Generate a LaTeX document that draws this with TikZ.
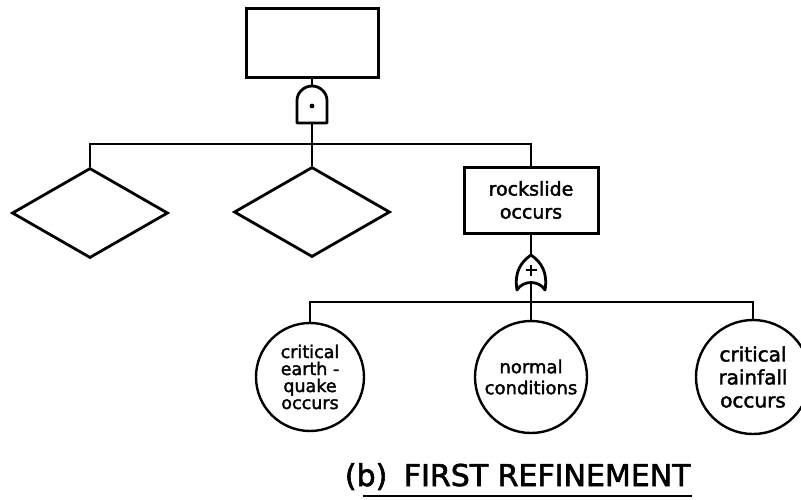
\documentclass[tikz,border=0pt]{standalone}
\usepackage{fontspec}
\setmainfont{DejaVu Sans}[FakeBold=2]
\usetikzlibrary{shapes.geometric}
\begin{document}
\begin{tikzpicture}[x=1pt,y=-1pt, line width=2.8pt,
  box/.style={draw, rectangle, inner sep=0pt, align=center, line width=3pt,
    font=\fontsize{19}{23}\selectfont},
  dia/.style={draw, diamond, inner sep=0pt, line width=2.8pt,
    minimum width=156pt, minimum height=90pt},
  evt/.style={draw, circle, inner sep=0pt, align=center, line width=2.4pt},
  wire/.style={line width=2.8pt},
  gate/.style={line width=2.8pt, line join=round}]
\useasboundingbox (0,0) rectangle (801,499);

% top event and AND gate
\node[box, minimum width=132pt, minimum height=69pt] (top) at (312,42.5) {};
\draw[gate] (297,123) -- (297,100.5) .. controls (297,92.5) and (304,86) .. (312,86)
  .. controls (320,86) and (327,92.5) .. (327,100.5) -- (327,123) -- cycle;
\fill (312,106) circle[radius=2.4pt];
\coordinate (andin) at (312,86);
\coordinate (andout) at (312,123);
\coordinate (bus1) at (312,144);

% second level
\node[dia] (d1) at (90,213) {};
\node[dia] (d2) at (312,212) {};
\node[box, minimum width=134pt, minimum height=66pt] (rock) at (531,200) {rockslide\\occurs};

\draw[wire] (top.south) -- (andin);
\draw[wire] (andout) -- (bus1) -- (d2.north);
\draw[wire] (d1.north) |- (bus1) -| (rock.north);

% OR gate
\draw[gate] (517,290) .. controls (514,272) and (521,262) .. (531,255)
  .. controls (541,262) and (548,272) .. (545,290)
  .. controls (539,280) and (523,280) .. (517,290) -- cycle;
\draw[line width=2.6pt] (531,264.5) -- (531,275.5) (525.5,270) -- (536.5,270);
\coordinate (orin) at (531,255);
\coordinate (orout) at (531,282.5);
\coordinate (bus2) at (531,302);

% basic events
\node[evt, minimum size=108pt, font=\fontsize{17.5}{17}\selectfont] (c1) at (310,377)
  {critical\\earth -\\quake\\occurs};
\node[evt, minimum size=112pt, font=\fontsize{18}{21}\selectfont] (c2) at (531,377)
  {normal\\conditions};
\node[evt, minimum size=114pt, font=\fontsize{20}{23}\selectfont] (c3) at (753,377)
  {critical\\rainfall\\occurs};

\draw[wire] (rock.south) -- (orin);
\draw[wire] (orout) -- (bus2) -- (c2.north);
\draw[wire] (c1.north) |- (bus2) -| (c3.north);

% caption
\node[anchor=base east, inner sep=0pt, font=\fontsize{30}{36}\selectfont] (title) at (692,486)
  {(b)\hspace{0.55em}FIRST REFINEMENT};
\draw[line width=2.4pt] ([xshift=20pt,yshift=-10pt]title.base west) -- ([yshift=-10pt]title.base east);
\end{tikzpicture}
\end{document}
